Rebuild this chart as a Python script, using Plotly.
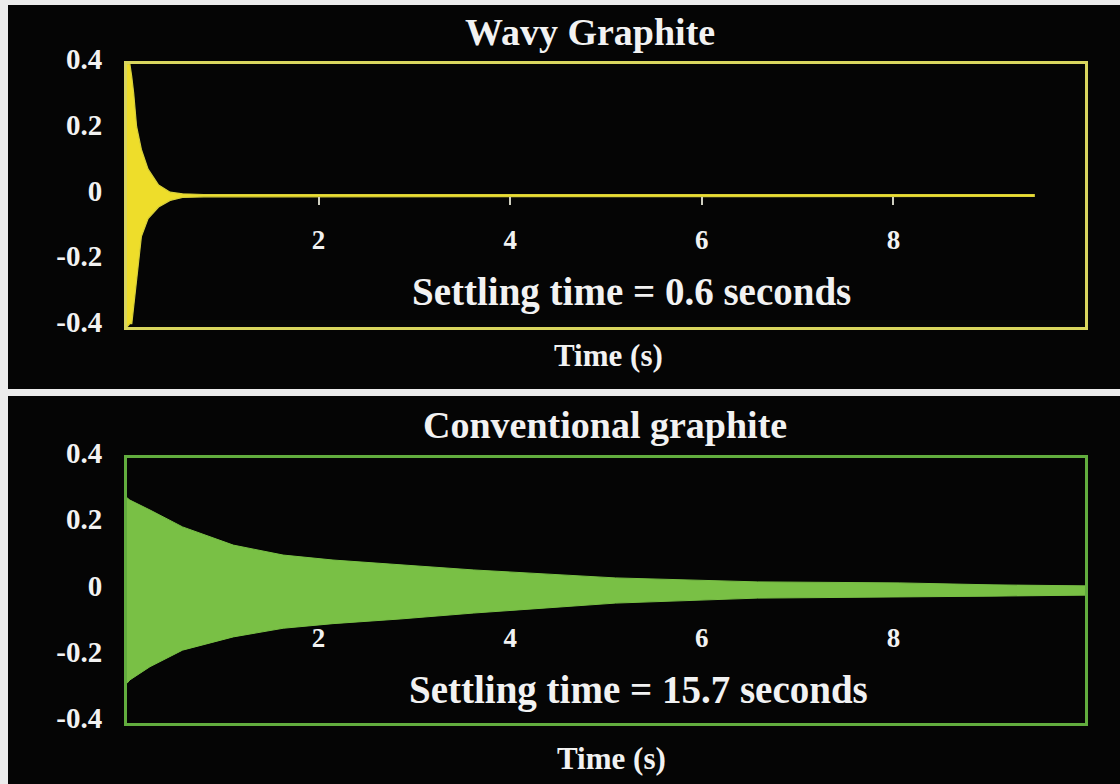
import plotly.graph_objects as go

# ---- data (envelopes of the decaying oscillation) ----
wavy_time  = [0.00, 0.03, 0.05, 0.07, 0.10, 0.15, 0.22, 0.33, 0.45, 0.58, 0.80, 2.0, 4.0, 6.0, 8.0, 9.47]
wavy_upper = [0.40, 0.40, 0.36, 0.31, 0.21, 0.14, 0.08, 0.032, 0.010, 0.005, 0.003, 0.003, 0.003, 0.003, 0.003, 0.003]
wavy_lower = [-0.40, -0.39, -0.39, -0.33, -0.26, -0.125, -0.07, -0.035, -0.015, -0.006, -0.004, -0.003, -0.003, -0.003, -0.003, -0.003]

conv_time  = [0.00, 0.03, 0.24, 0.58, 1.11, 1.63, 2.15, 2.85, 3.62, 5.10, 6.58, 8.06, 9.04, 10.0]
conv_upper = [0.28, 0.273, 0.243, 0.192, 0.137, 0.107, 0.092, 0.077, 0.062, 0.038, 0.026, 0.023, 0.017, 0.014]
conv_lower = [-0.28, -0.27, -0.23, -0.18, -0.14, -0.114, -0.10, -0.086, -0.068, -0.038, -0.023, -0.020, -0.017, -0.014]

x_ticks = [2, 4, 6, 8]
y_ticks = [-0.4, -0.2, 0, 0.2, 0.4]
y_tick_text = ["-0.4", "-0.2", "0", "0.2", "0.4"]

panel_titles = ["Wavy Graphite", "Conventional graphite"]
settling_texts = ["Settling time = 0.6 seconds", "Settling time = 15.7 seconds"]
x_title = "Time (s)"

# ---- styling ----
FONT = "Liberation Serif"
TXT = "#f2f2f2"
YEL_FILL = "#eedd2a"
YEL_EDGE = "#d8d03a"
YEL_FRAME = "#d9d65e"
GRN_FILL = "#79c045"
GRN_FRAME = "#62ad3e"
W, H = 1120, 784

def py(pix):
    return 1 - pix / H

def px(pix):
    return pix / W

xdom = [px(127), px(1085)]
top_dom = [py(327), py(64)]
bot_dom = [py(723), py(458)]

fig = go.Figure()

# envelope polygons
fig.add_trace(go.Scatter(
    x=wavy_time + wavy_time[::-1], y=wavy_upper + wavy_lower[::-1],
    fill="toself", fillcolor=YEL_FILL, mode="lines",
    line=dict(color=YEL_EDGE, width=1.2), xaxis="x", yaxis="y",
    showlegend=False, hoverinfo="skip"))
fig.add_trace(go.Scatter(
    x=conv_time + conv_time[::-1], y=conv_upper + conv_lower[::-1],
    fill="toself", fillcolor=GRN_FILL, mode="lines",
    line=dict(color=GRN_FILL, width=1), xaxis="x2", yaxis="y2",
    showlegend=False, hoverinfo="skip"))
# dummy traces for the tick axes placed at y = 0
fig.add_trace(go.Scatter(x=[None], y=[None], xaxis="x3", yaxis="y", showlegend=False))
fig.add_trace(go.Scatter(x=[None], y=[None], xaxis="x4", yaxis="y2", showlegend=False))

ytickfont = dict(family=FONT, size=29, color=TXT, weight="bold")
xtickfont = dict(family=FONT, size=27, color=TXT, weight="bold")

def frame_x(color, anchor):
    return dict(domain=xdom, range=[0, 10], showgrid=False, zeroline=False,
                showticklabels=False, ticks="", showline=True, mirror=True,
                linecolor=color, linewidth=3, anchor=anchor, automargin=False)

def frame_y(color, dom, anchor):
    return dict(domain=dom, range=[-0.4, 0.4], showgrid=False, zeroline=False,
                tickvals=y_ticks, ticktext=y_tick_text, tickfont=ytickfont,
                ticks="", ticklabelstandoff=16, ticklabelshift=-5,
                showline=True, mirror=True, linecolor=color, linewidth=3,
                anchor=anchor, automargin=False)

def tick_x(over, pos, tickcolor, ticklen, standoff):
    return dict(overlaying=over, anchor="free", position=pos, range=[0, 10],
                tickvals=x_ticks, ticktext=[str(v) for v in x_ticks],
                tickfont=xtickfont, showgrid=False, zeroline=False, showline=False,
                ticks="outside" if ticklen else "", ticklen=ticklen, tickwidth=2,
                tickcolor=tickcolor, ticklabelstandoff=standoff, automargin=False)

ann = []
def add_text(text, x, y, size):
    ann.append(dict(text=text, x=px(x), y=py(y), xref="paper", yref="paper",
                    showarrow=False, xanchor="center", yanchor="middle",
                    font=dict(family=FONT, size=size, color=TXT, weight="bold")))

add_text(panel_titles[0], 590, 32, 38)
add_text(settling_texts[0], 631, 292, 39)
add_text(x_title, 608, 355, 31)
add_text(panel_titles[1], 605, 425, 38)
add_text(settling_texts[1], 638, 690, 39)
add_text(x_title, 611, 758, 31)

shapes = [
    # white separator between the panels and white margins of the composite
    dict(type="rect", xref="paper", yref="paper", x0=0, x1=1, y0=py(396), y1=py(389),
         fillcolor="#ececec", line=dict(width=0), layer="below"),
    dict(type="rect", xref="paper", yref="paper", x0=0, x1=1, y0=py(5), y1=1,
         fillcolor="#ececec", line=dict(width=0), layer="below"),
    dict(type="rect", xref="paper", yref="paper", x0=0, x1=px(8), y0=0, y1=1,
         fillcolor="#ececec", line=dict(width=0), layer="below"),
]

fig.update_layout(
    template="none",
    width=W, height=H, margin=dict(l=0, r=0, t=0, b=0, pad=0, autoexpand=False),
    paper_bgcolor="#050505", plot_bgcolor="#050505",
    showlegend=False, hovermode=False,
    xaxis=frame_x(YEL_FRAME, "y"),
    yaxis=frame_y(YEL_FRAME, top_dom, "x"),
    xaxis2=frame_x(GRN_FRAME, "y2"),
    yaxis2=frame_y(GRN_FRAME, bot_dom, "x2"),
    xaxis3=tick_x("x", py(195.5), "#cfcfc0", 8, 12),
    xaxis4=tick_x("x2", py(590.5), GRN_FILL, 0, 28),
    annotations=ann, shapes=shapes,
)

fig.write_html("out.html", config={"displayModeBar": False},
               post_script="document.body.style.margin='0px';document.body.style.background='#050505';")
